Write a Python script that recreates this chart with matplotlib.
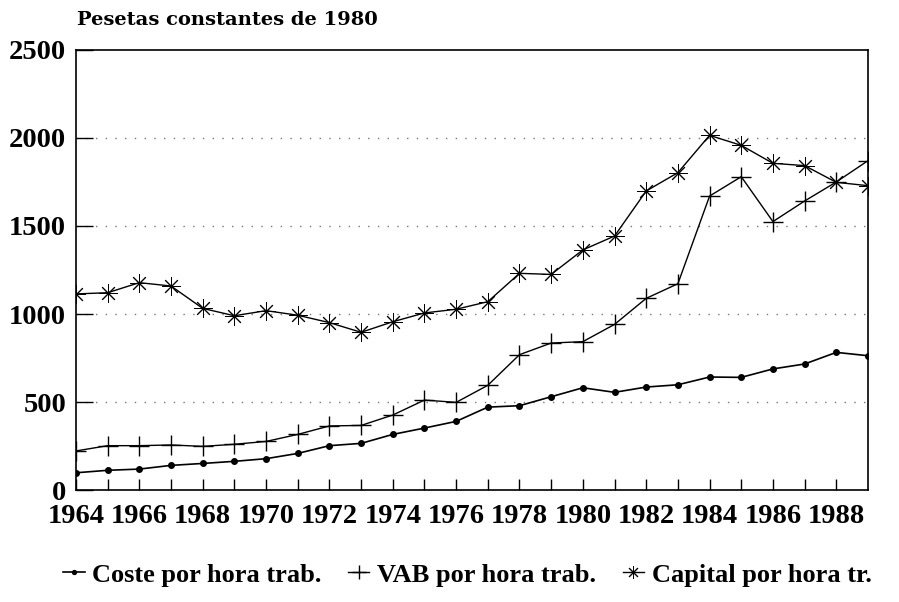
import numpy as np
import matplotlib
matplotlib.use('Agg')
import matplotlib.pyplot as plt

years = list(range(1964, 1990))

# Coste por hora trabajada
coste = [98, 112, 119, 140, 151, 163, 178, 208, 252, 265, 316, 352,
         390, 471, 479, 530, 581, 555, 585, 598, 642, 640, 688, 716, 782, 763]
# VAB por hora trabajada
vab = [222, 252, 252, 256, 248, 260, 276, 316, 364, 367, 426, 511,
       498, 595, 769, 835, 843, 941, 1089, 1172, 1670, 1780, 1525, 1642, 1750, 1871]
# Capital por hora trabajada
capital = [1114, 1121, 1178, 1159, 1032, 990, 1019, 993, 951, 896, 956, 1006,
           1027, 1070, 1231, 1225, 1364, 1443, 1699, 1803, 2015, 1958, 1856, 1843, 1748, 1729]

labels = ['Coste por hora trab.', 'VAB por hora trab.', 'Capital por hora tr.']
title = 'Pesetas constantes de 1980'

plt.rcParams['font.family'] = ['Liberation Serif', 'DejaVu Serif']
plt.rcParams['font.weight'] = 'bold'

fig = plt.figure(figsize=(8.99, 6.02), dpi=100)
ax = fig.add_axes([0.0845, 0.186, 0.881, 0.731])

ax.plot(years, coste, color='k', linewidth=1.2, marker='o', markersize=4,
        label=labels[0])
ax.plot(years, vab, color='k', linewidth=1.0, marker='+', markersize=15,
        markeredgewidth=1.0, label=labels[1])
ax.plot(years, capital, color='k', linewidth=1.0, marker=(8, 2, 0), markersize=13,
        markeredgewidth=0.7, label=labels[2])

ax.set_xlim(1964, 1989)
ax.set_ylim(0, 2500)
ax.set_xticks(years[:-1])
ax.set_xticklabels([str(y) if y % 2 == 0 else '' for y in years[:-1]])
ax.set_yticks([0, 500, 1000, 1500, 2000, 2500])
ax.tick_params(axis='both', direction='in', labelsize=20.5, width=1.0)
ax.tick_params(axis='x', length=8, pad=10)
ax.tick_params(axis='y', length=12, pad=7)
for y in [500, 1000, 1500, 2000]:
    ax.axhline(y, color='#777777', linewidth=1.0, linestyle=(0, (1, 6)), zorder=0)
for s in ax.spines.values():
    s.set_linewidth(1.2)

fig.text(0.0856, 0.967, title, fontsize=14, fontweight='bold', va='center', ha='left',
         family='DejaVu Serif')

fig.legend(loc='center', bbox_to_anchor=(0.52, 0.045), ncol=3, frameon=False,
           handlelength=0.8, handletextpad=0.3, columnspacing=1.0, markerscale=0.7,
           prop={'family': 'Liberation Serif', 'weight': 'bold', 'size': 19})

fig.savefig('out.png', dpi=100)
